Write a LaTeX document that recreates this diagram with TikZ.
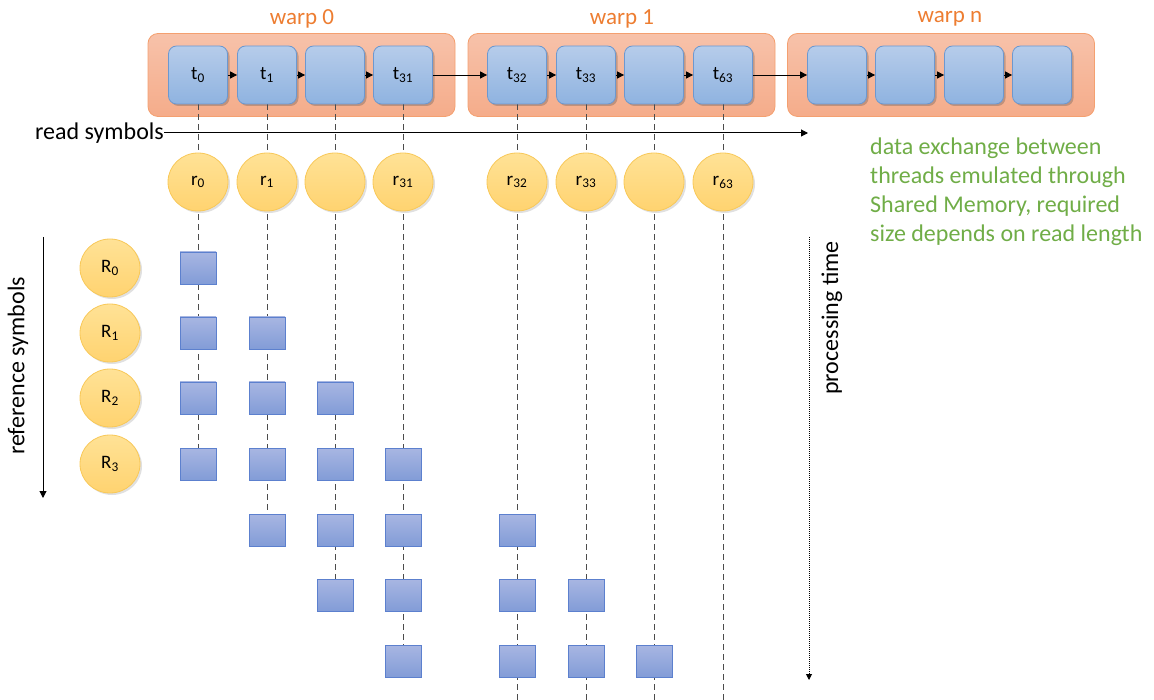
\documentclass[tikz,border=0pt]{standalone}
\usepackage{fontspec}
\setmainfont{Carlito}
\usetikzlibrary{arrows.meta,shadows,shapes.geometric}
\pgfdeclarelayer{warps}
\pgfdeclarelayer{links}
\pgfsetlayers{warps,links,main}

\definecolor{warpTop}{RGB}{247,194,170}
\definecolor{warpBot}{RGB}{245,172,138}
\definecolor{warpLine}{RGB}{244,160,112}
\definecolor{warpText}{RGB}{237,125,49}
\definecolor{thrTop}{RGB}{182,204,234}
\definecolor{thrBot}{RGB}{143,179,224}
\definecolor{thrLine}{RGB}{108,152,208}
\definecolor{symTop}{RGB}{255,226,150}
\definecolor{symBot}{RGB}{255,211,112}
\definecolor{symLine}{RGB}{248,200,88}
\definecolor{cellTop}{RGB}{168,182,226}
\definecolor{cellBot}{RGB}{130,156,215}
\definecolor{cellLine}{RGB}{92,128,206}
\definecolor{noteGreen}{RGB}{112,173,71}

\begin{document}
\begin{tikzpicture}[x=1pt,y=-1pt,
  warpbox/.style={draw=warpLine, line width=0.8pt, rounded corners=10pt,
    top color=warpTop, bottom color=warpBot,
    minimum width=307pt, minimum height=83pt, inner sep=0pt},
  warplabel/.style={text=warpText, font=\fontsize{23}{23}\selectfont, inner sep=0pt},
  thread/.style={draw=thrLine, line width=0.8pt, rounded corners=8pt,
    top color=thrTop, bottom color=thrBot,
    minimum width=59pt, minimum height=58pt, inner sep=0pt,
    font=\fontsize{19}{19}\selectfont,
    drop shadow={shadow xshift=2pt, shadow yshift=-2pt, opacity=0.3, fill=black!70}},
  sym/.style={ellipse, draw=symLine, line width=0.8pt,
    top color=symTop, bottom color=symBot,
    minimum width=60pt, minimum height=58pt, inner sep=0pt,
    font=\fontsize{19}{19}\selectfont,
    drop shadow={shadow xshift=2pt, shadow yshift=-2pt, opacity=0.2, fill=black!60}},
  cell/.style={draw=cellLine, line width=0.8pt,
    top color=cellTop, bottom color=cellBot,
    minimum width=36pt, minimum height=32pt, inner sep=0pt},
  tarrow/.style={line width=0.9pt, -{Triangle[length=7pt,width=7pt]}},
  link/.style={line width=0.9pt, black!70, dash pattern=on 6pt off 4pt},
  axislabel/.style={font=\fontsize{24}{24}\selectfont, inner sep=0pt},
]
\useasboundingbox (0,0) rectangle (1154,700);

% warp containers and their titles
\begin{pgfonlayer}{warps}
  \node[warpbox] (w0) at (301.5,75) {};
  \node[warpbox] (w1) at (621.5,75) {};
  \node[warpbox] (wn) at (941,75) {};
\end{pgfonlayer}
\node[warplabel] (lw0) at (302,19) {warp 0};
\node[warplabel] (lw1) at (622,19) {warp 1};
\node[warplabel] (lwn) at (950,19) {warp n};

% threads of warp 0 and warp 1
\foreach \i/\x/\lab in {0/198/{t\textsubscript{0}}, 1/267/{t\textsubscript{1}}, 2/335/{},
    3/403/{t\textsubscript{31}}, 4/517/{t\textsubscript{32}}, 5/586/{t\textsubscript{33}},
    6/654/{}, 7/723/{t\textsubscript{63}}}
  \node[thread] (t\i) at (\x,75) {\lab};
% threads of warp n
\foreach \i/\x in {0/837,1/905,2/974,3/1042}
  \node[thread] (n\i) at (\x,75) {};

% thread chain
\foreach \a/\b in {t0/t1,t1/t2,t2/t3,t3/t4,t4/t5,t5/t6,t6/t7,t7/n0,n0/n1,n1/n2,n2/n3}
  \draw[tarrow] (\a.east) -- (\b.west);

% read symbols, one per thread
\foreach \i/\x/\lab in {0/198/{r\textsubscript{0}}, 1/267/{r\textsubscript{1}}, 2/335/{},
    3/403/{r\textsubscript{31}}, 4/517/{r\textsubscript{32}}, 5/586/{r\textsubscript{33}},
    6/654/{}, 7/723/{r\textsubscript{63}}}
  \node[sym] (r\i) at (\x,182) {\lab};

% reference symbols
\foreach \j/\y in {0/268,1/333,2/398,3/464}
  \node[sym] (R\j) at (110,\y) {R\textsubscript{\j}};

% computation cells (column/row)
\foreach \c/\x in {0/198,1/267,2/335,3/403,4/517,5/586,6/654}
  \foreach \r/\y in {0/268,1/333,2/398,3/464,4/530,5/595,6/661}
  {
    \pgfmathtruncatemacro{\d}{\r-\c}
    \pgfmathtruncatemacro{\ok}{(\d>=0)&&(\d<=3)}
    \ifnum\ok=1
      \node[cell] (s-\c-\r) at (\x,\y) {};
    \fi
  }

% free ends of the long thread lines
\foreach \i/\x in {4/517,5/586,6/654,7/723}
  \coordinate (b\i) at (\x,700);

% thread lines
\begin{pgfonlayer}{links}
  \foreach \i/\e in {0/s-0-3,1/s-1-4,2/s-2-5,3/s-3-6,4/b4,5/b5,6/b6,7/b7}
    \draw[link] (t\i.south) -- (\e.center);
\end{pgfonlayer}

% read symbols axis
\node[axislabel, anchor=east] (lread) at (164,133) {read symbols};
\coordinate (readend) at (808,133);
\draw[tarrow, line width=1pt] (lread.east) -- (readend);

% reference symbols axis
\coordinate (reftop) at (43,237);
\coordinate (refbot) at (43,498);
\draw[tarrow, line width=1pt] (reftop) -- (refbot);
\node[axislabel, rotate=90] (lref) at (18,366) {reference symbols};

% processing time axis
\coordinate (ptop) at (809,237);
\coordinate (pbot) at (809,680);
\draw[line width=0.9pt, dash pattern=on 1pt off 1pt, -{Triangle[length=6pt,width=6pt]}] (ptop) -- (pbot);
\node[axislabel, rotate=90] (lproc) at (832,318) {processing time};

% note
\node[anchor=north west, align=left, inner sep=0pt, text=noteGreen,
      font=\fontsize{24}{29}\selectfont] (note) at (870,138)
  {data exchange between\\threads emulated through\\Shared Memory, required\\size depends on read length};
\end{tikzpicture}
\end{document}
